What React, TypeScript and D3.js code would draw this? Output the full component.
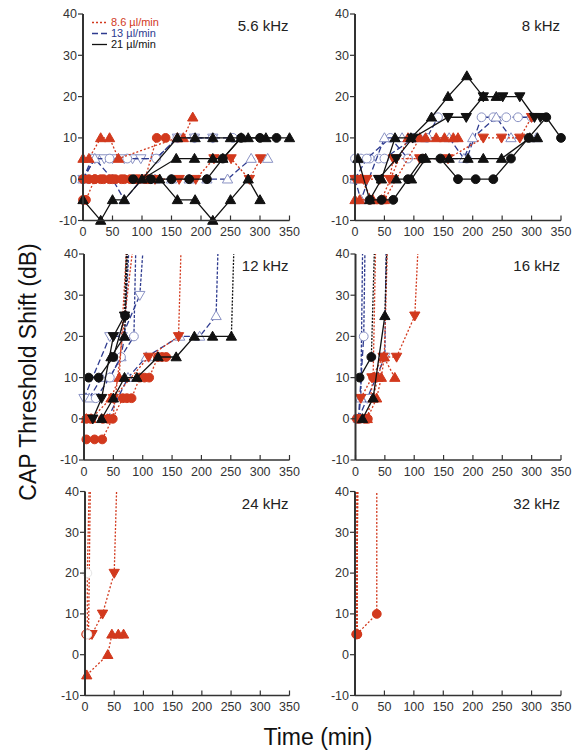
import React from "react";
import * as d3 from "d3";

type Pt = [number, number];

// ---------- tick labels / titles ----------
const panelTitles = ["5.6 kHz", "8 kHz", "12 kHz", "16 kHz", "24 kHz", "32 kHz"];
const xTicks = [0, 50, 100, 150, 200, 250, 300, 350];
const yTicks = [-10, 0, 10, 20, 30, 40];
const legendLabels = ["8.6 µl/min", "13 µl/min", "21 µl/min"];
const legendGroups = ["r", "b", "k"];

// ---------- 5.6 kHz ----------
const f56_k1: Pt[] = [[0,-5],[30,-10],[50,-5],[70,-5],[160,10],[190,10],[220,10],[250,10],[280,10],[310,10],[350,10]];
const f56_k2: Pt[] = [[100,0],[158,5],[189,5],[220,5],[237,5],[268,10]];
const f56_k3: Pt[] = [[130,0],[160,-5],[190,-5],[220,-10],[250,-5],[280,0],[300,-5]];
const f56_k4: Pt[] = [[85,0],[115,0],[150,0],[180,0],[210,0],[237,5],[268,10],[300,10],[328,10]];
const f56_r1: Pt[] = [[0,5],[10,5],[30,10],[45,10],[60,5],[160,10],[170,10],[186,15]];
const f56_r2: Pt[] = [[0,0],[10,0],[20,0],[30,0],[45,0],[55,0],[70,0],[80,0],[95,0],[105,0],[125,10],[140,10]];
const f56_r3: Pt[] = [[0,-5],[5,-5],[20,0],[35,0],[50,0],[65,0],[90,0],[110,0]];
const f56_r4: Pt[] = [[122,0],[163,0],[191,0],[222,5],[251,5],[282,0],[301,5]];
const f56_b1: Pt[] = [[0,0],[20,5],[36,5],[50,5],[70,5],[84,5],[98,5],[124,5],[160,10],[189,10],[220,10]];
const f56_b2: Pt[] = [[0,0],[15,5],[45,5],[75,5],[124,5],[160,10],[189,10],[220,10],[254,10]];
const f56_b3: Pt[] = [[0,0],[20,5],[50,0],[70,-5],[100,0],[122,0],[150,0],[180,0],[210,0],[245,0],[285,5],[313,5]];

// ---------- 8 kHz ----------
const f8_k1: Pt[] = [[25,-5],[45,-5],[65,-5],[90,0],[115,5],[145,5],[175,0],[205,0],[235,0],[265,5],[295,10],[325,15],[350,10]];
const f8_k2: Pt[] = [[5,5],[25,-5],[45,0],[68,10],[95,10],[130,15],[158,20],[190,25],[218,20],[240,20]];
const f8_k3: Pt[] = [[40,0],[70,5],[98,10],[158,15],[189,15],[218,20],[251,20],[280,20],[305,15],[315,15]];
const f8_k4: Pt[] = [[70,0],[96,0],[120,5],[160,5],[192,5],[218,5],[249,5],[297,10],[310,10]];
const f8_r1: Pt[] = [[0,-5],[8,-5],[30,-5],[50,-5],[110,10],[138,10],[152,10],[167,10],[175,10]];
const f8_r2: Pt[] = [[0,0],[20,0],[42,0],[59,0],[65,5],[110,5],[158,5],[218,10],[249,10],[280,10],[300,15]];
const f8_r3: Pt[] = [[10,0],[30,-5],[45,-5],[90,10],[120,10]];
const f8_b1: Pt[] = [[0,5],[10,5],[25,5],[40,5],[50,5],[100,10],[122,10],[141,15]];
const f8_b2: Pt[] = [[0,0],[20,5],[60,10],[90,5],[190,5],[215,15],[235,15],[257,15],[277,15],[300,15]];
const f8_b3: Pt[] = [[0,0],[10,-5],[50,10],[80,10],[110,10],[160,10],[185,5],[200,10],[240,15],[265,10],[308,10]];

// ---------- 12 kHz ----------
const f12_k1: Pt[] = [[8,10],[25,10],[50,15],[70,25],[73,40]];
const f12_k2: Pt[] = [[15,0],[30,5],[50,20],[69,25],[72,40]];
const f12_k3: Pt[] = [[30,0],[50,5],[69,10],[90,10],[126,15],[157,15],[188,20],[219,20],[251,20],[255,40]];
const f12_k4: Pt[] = [[46,15],[69,20],[74,40]];
const f12_r1: Pt[] = [[4,-5],[18,-5],[31,-5],[66,5],[73,5],[81,5],[95,10],[103,10],[111,10],[126,15],[133,15],[140,15]];
const f12_r2: Pt[] = [[50,5],[110,15],[161,20],[165,40]];
const f12_r3: Pt[] = [[4,0],[12,0],[32,0],[41,0],[49,0],[82,40]];
const f12_r4: Pt[] = [[4,0],[12,0],[46,5],[60,10],[72,40]];
const f12_b1: Pt[] = [[9,5],[30,10],[44,10],[63,15],[69,20],[76,40]];
const f12_b2: Pt[] = [[0,5],[44,20],[65,20],[95,30],[100,40]];
const f12_b3: Pt[] = [[40,0],[75,10],[106,15],[163,20],[197,20],[225,25],[228,40]];
const f12_b4: Pt[] = [[20,5],[44,10],[63,15],[85,20],[88,40]];

// ---------- 16 kHz ----------
const f16_k1: Pt[] = [[7,10],[27,15],[32,40]];
const f16_k2: Pt[] = [[12,0],[30,5],[50,25],[53,40]];
const f16_b1: Pt[] = [[5,0],[9,5],[12,40]];
const f16_b2: Pt[] = [[5,0],[14,20],[16,40]];
const f16_b3: Pt[] = [[5,0],[20,5],[35,10],[50,15],[52,40]];
const f16_r1: Pt[] = [[2,0],[7,0],[16,0],[21,0],[30,10],[34,40]];
const f16_r2: Pt[] = [[9,5],[28,10],[47,15],[70,15],[101,25],[106,40]];
const f16_r3: Pt[] = [[20,0],[36,5],[44,10],[49,15],[54,40]];
const f16_r4: Pt[] = [[30,5],[38,10],[48,15],[67,10]];

// ---------- 24 kHz ----------
const f24_r1: Pt[] = [[2,5],[6,5],[9,40]];
const f24_r2: Pt[] = [[8,5],[12,5],[30,10],[50,20],[54,40]];
const f24_r3: Pt[] = [[3,-5],[39,0],[46,5],[57,5],[66,5]];
const f24_r4: Pt[] = [[4,5],[4,20],[7,40]];

// ---------- 32 kHz ----------
const f32_r1: Pt[] = [[3,5],[37,10],[37,40]];
const f32_r2: Pt[] = [[3,5],[3,40]];
const f32_r3: Pt[] = [[2,5],[5,40]];
const f32_r4: Pt[] = [[4,5],[4,40]];

type Series = { g: string; m: string; pts: Pt[]; open?: boolean };

const panelSeries: Series[][] = [
  [
    { g: "b", m: "v", pts: f56_b1 }, { g: "b", m: "o", pts: f56_b2 }, { g: "b", m: "^", pts: f56_b3 },
    { g: "r", m: "^", pts: f56_r1 }, { g: "r", m: "o", pts: f56_r2 }, { g: "r", m: "o", pts: f56_r3 }, { g: "r", m: "v", pts: f56_r4 },
    { g: "k", m: "^", pts: f56_k1 }, { g: "k", m: "^", pts: f56_k2 }, { g: "k", m: "^", pts: f56_k3 }, { g: "k", m: "o", pts: f56_k4 },
  ],
  [
    { g: "b", m: "o", pts: f8_b1 }, { g: "b", m: "o", pts: f8_b2 }, { g: "b", m: "^", pts: f8_b3 },
    { g: "r", m: "^", pts: f8_r1 }, { g: "r", m: "v", pts: f8_r2 }, { g: "r", m: "^", pts: f8_r3 },
    { g: "k", m: "o", pts: f8_k1 }, { g: "k", m: "^", pts: f8_k2 }, { g: "k", m: "v", pts: f8_k3 }, { g: "k", m: "^", pts: f8_k4 },
  ],
  [
    { g: "b", m: "^", pts: f12_b1 }, { g: "b", m: "v", pts: f12_b2 }, { g: "b", m: "^", pts: f12_b3 }, { g: "b", m: "o", pts: f12_b4 },
    { g: "r", m: "o", pts: f12_r1 }, { g: "r", m: "v", pts: f12_r2 }, { g: "r", m: "o", pts: f12_r3 }, { g: "r", m: "^", pts: f12_r4 },
    { g: "k", m: "o", pts: f12_k1 }, { g: "k", m: "v", pts: f12_k2 }, { g: "k", m: "^", pts: f12_k3 }, { g: "k", m: "^", pts: f12_k4 },
  ],
  [
    { g: "b", m: "^", pts: f16_b1 }, { g: "b", m: "o", pts: f16_b2 }, { g: "b", m: "v", pts: f16_b3 },
    { g: "r", m: "o", pts: f16_r1 }, { g: "r", m: "v", pts: f16_r2 }, { g: "r", m: "^", pts: f16_r3 }, { g: "r", m: "^", pts: f16_r4 },
    { g: "k", m: "o", pts: f16_k1 }, { g: "k", m: "^", pts: f16_k2 },
  ],
  [
    { g: "r", m: "o", pts: f24_r1 }, { g: "r", m: "v", pts: f24_r2 }, { g: "r", m: "^", pts: f24_r3 },
    { g: "r", m: "o", pts: f24_r4, open: true },
  ],
  [
    { g: "r", m: "o", pts: f32_r1 }, { g: "r", m: "o", pts: f32_r2 }, { g: "r", m: "o", pts: f32_r3 }, { g: "r", m: "o", pts: f32_r4 },
  ],
];

const COLORS: Record<string, string> = { r: "#d2391d", b: "#2e3b8f", k: "#111111" };
const DASH: Record<string, string | undefined> = { r: "2,2", b: "6,3", k: undefined };
const ESC_DASH: Record<string, string> = { r: "2,1.6", b: "3,1.6", k: "2,1.4" };
const OPEN_STROKE = "#8a92c4";
const AXIS = "#333333";
const FONT = "'Liberation Sans', Arial, Helvetica, sans-serif";

const layout = [
  { x0: 83, x1: 289.5, yTop: 14, yBot: 220.5 },
  { x0: 355, x1: 561, yTop: 14, yBot: 220.5 },
  { x0: 84, x1: 289.5, yTop: 254, yBot: 460 },
  { x0: 355.5, x1: 561, yTop: 254, yBot: 460 },
  { x0: 85, x1: 289.5, yTop: 491.5, yBot: 695.5 },
  { x0: 355, x1: 561, yTop: 491.5, yBot: 695.5 },
];

function Marker({ m, x, y, fill, stroke }: { m: string; x: number; y: number; fill: string; stroke: string }) {
  if (m === "o") {
    return <circle cx={x} cy={y} r={4.4} fill={fill} stroke={stroke} strokeWidth={1} />;
  }
  const sym = d3.symbol().type(d3.symbolTriangle).size(46)() as string;
  const rot = m === "v" ? 180 : 0;
  return <path d={sym} transform={`translate(${x},${y + (m === "v" ? -0.8 : 0.8)}) rotate(${rot})`} fill={fill} stroke={stroke} strokeWidth={1} />;
}

function Panel({ idx }: { idx: number }) {
  const L = layout[idx];
  const xs = d3.scaleLinear().domain([0, 350]).range([L.x0, L.x1]);
  const ys = d3.scaleLinear().domain([-10, 40]).range([L.yBot, L.yTop]);
  const line = d3.line<Pt>().x((d) => xs(d[0])).y((d) => ys(d[1]));
  const series = panelSeries[idx];

  return (
    <g>
      {series.map((s, i) => {
        const n = s.pts.length;
        const esc = s.pts[n - 1][1] >= 40;
        const main = esc ? s.pts.slice(0, n - 1) : s.pts;
        const escSeg = esc ? s.pts.slice(n - 2) : null;
        const c = COLORS[s.g];
        const isOpen = s.g === "b" || s.open;
        const fill = isOpen ? "#ffffff" : c;
        const stroke = s.open ? "#e6e6e6" : isOpen ? OPEN_STROKE : c;
        return (
          <g key={i}>
            {main.length > 1 && (
              <path d={line(main) as string} fill="none" stroke={c} strokeWidth={1.3} strokeDasharray={DASH[s.g]} />
            )}
            {escSeg && (
              <path d={line(escSeg) as string} fill="none" stroke={c} strokeWidth={1.3} strokeDasharray={ESC_DASH[s.g]} />
            )}
            {main.map((p, j) => (
              <Marker key={j} m={s.m} x={xs(p[0])} y={ys(p[1])} fill={fill} stroke={stroke} />
            ))}
          </g>
        );
      })}
      {/* axes */}
      <line x1={L.x0} x2={L.x0} y1={L.yTop} y2={L.yBot} stroke={AXIS} strokeWidth={2} />
      <line x1={L.x0} x2={L.x1} y1={L.yBot} y2={L.yBot} stroke={AXIS} strokeWidth={1.5} />
      {yTicks.map((t) => (
        <g key={"y" + t}>
          <line x1={L.x0 - 5} x2={L.x0} y1={ys(t)} y2={ys(t)} stroke={AXIS} strokeWidth={1.2} />
          <text x={L.x0 - 6} y={ys(t)} dy="0.35em" textAnchor="end" fontSize={12.5} fill="#333" fontFamily={FONT}>
            {t}
          </text>
        </g>
      ))}
      {xTicks.map((t) => (
        <g key={"x" + t}>
          <line x1={xs(t)} x2={xs(t)} y1={L.yBot} y2={L.yBot - 5} stroke={AXIS} strokeWidth={1.2} />
          <text x={xs(t)} y={L.yBot + 15.5} textAnchor="middle" fontSize={12.5} fill="#333" fontFamily={FONT}>
            {t}
          </text>
        </g>
      ))}
      <text x={L.x1 - 1} y={L.yTop + 12} dy="0.35em" textAnchor="end" fontSize={15} fill="#222" fontFamily={FONT}>
        {panelTitles[idx]}
      </text>
      {idx === 0 && (
        <g>
          {legendLabels.map((lab, i) => {
            const g = legendGroups[i];
            const y = 22.5 + i * 11;
            return (
              <g key={lab}>
                <line x1={92} x2={107} y1={y} y2={y} stroke={COLORS[g]} strokeWidth={1.3} strokeDasharray={DASH[g]} />
                <text x={111} y={y} dy="0.35em" fontSize={11} fill={COLORS[g]} fontFamily={FONT}>
                  {lab}
                </text>
              </g>
            );
          })}
        </g>
      )}
    </g>
  );
}

export default function App() {
  return (
    <svg width={579} height={755} style={{ position: "absolute", left: 0, top: 0, background: "#fff" }}>
      <rect width={579} height={755} fill="#fff" />
      {layout.map((_, i) => (
        <Panel key={i} idx={i} />
      ))}
      <text
        transform="translate(36,372) rotate(-90)"
        textAnchor="middle"
        fontSize={23}
        fill="#111"
        fontFamily={FONT}
      >
        CAP Threshold Shift (dB)
      </text>
      <text x={318} y={745} textAnchor="middle" fontSize={23} fill="#111" fontFamily={FONT}>
        Time (min)
      </text>
    </svg>
  );
}
